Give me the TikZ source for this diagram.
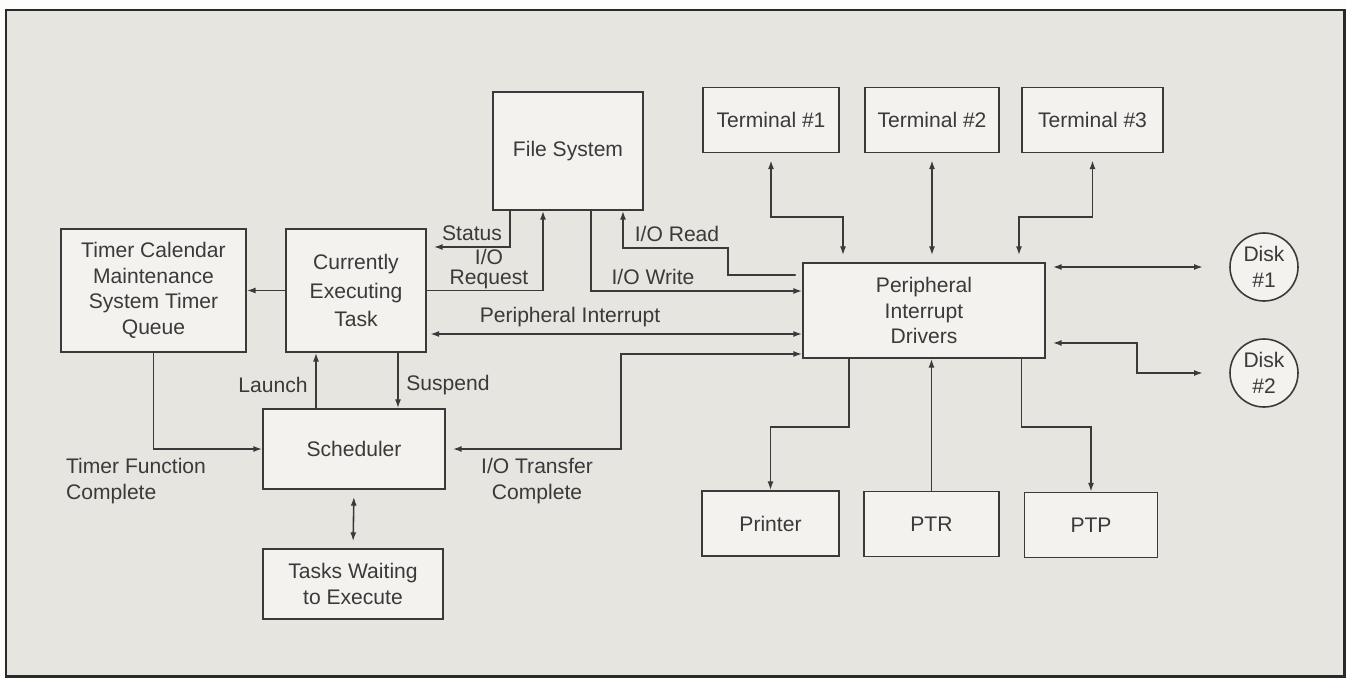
\documentclass[tikz,border=0pt]{standalone}
\usepackage{fontspec}
\setmainfont{Liberation Sans}
\usetikzlibrary{calc,arrows.meta,positioning}
\definecolor{papel}{HTML}{E6E5E0}
\definecolor{blanco}{HTML}{F3F2EE}
\definecolor{tinta}{HTML}{3A3A3A}
\definecolor{marco}{HTML}{2A2A2A}
\tikzset{
  caja/.style={draw=tinta,fill=blanco,line width=0.9pt,align=center,inner sep=2pt},
  disco/.style={draw=tinta,fill=blanco,line width=0.9pt,circle,minimum size=1.36cm,
                inner sep=0pt,align=center},
  flecha/.style={tinta,line width=0.9pt},
  rotulo/.style={tinta,inner sep=1pt},
}

\begin{document}
\begin{tikzpicture}[x=0.02cm,y=-0.02cm,>={Latex[length=5pt,width=3.4pt]},line cap=round,
                    font=\fontsize{12}{14.5}\selectfont,text=tinta]
        \useasboundingbox (0,0) rectangle (1347,677);
        \fill[white!92!papel] (0,0) rectangle (1347,677);
        \draw[marco,line width=1.7pt,fill=papel] (6,10) rectangle (1344,676);
        % cajas
        \node[caja,minimum width=3.7cm,minimum height=2.46cm] (timer) at (153.5,290.5)
              {Timer Calendar\\Maintenance\\System Timer\\Queue};
        \node[caja,minimum width=2.8cm,minimum height=2.46cm] (tarea) at (356,290.5)
              {Currently\\[1.5pt]Executing\\[1.5pt]Task};
        \node[caja,minimum width=3cm,minimum height=2.36cm] (archivos) at (568,151) {File System};
        \node[caja,minimum width=2.72cm,minimum height=1.3cm] (term1) at (771,120) {Terminal \#1};
        \node[caja,minimum width=2.68cm,minimum height=1.3cm] (term2) at (932,120) {Terminal \#2};
        \node[caja,minimum width=2.82cm,minimum height=1.3cm] (term3) at (1092.5,120) {Terminal \#3};
        \node[caja,minimum width=4.84cm,minimum height=1.9cm] (pid) at (924,310.5)
              {Peripheral\\Interrupt\\Drivers};
        \node[disco] (disco1) at (1264,267) {Disk\\\#1};
        \node[disco] (disco2) at (1264,373) {Disk\\\#2};
        \node[caja,minimum width=3.64cm,minimum height=1.6cm] (sched) at (354,449) {Scheduler};
        \node[caja,minimum width=3.6cm,minimum height=1.4cm] (espera) at (353,584)
              {Tasks Waiting\\to Execute};
        \node[caja,minimum width=2.74cm,minimum height=1.3cm] (printer) at (770.5,523.5) {Printer};
        \node[caja,minimum width=2.7cm,minimum height=1.3cm] (ptr) at (931.5,524) {PTR};
        \node[caja,minimum width=2.66cm,minimum height=1.3cm] (ptp) at (1091,525) {PTP};
        % puntos de quiebre
        \coordinate (carril) at (0,217);
        \coordinate (lectura) at (728,248);
        \coordinate (transf) at (621,449);
        \coordinate (quiebre) at (1137,373);
        \coordinate (abajo) at (0,427);
        % conexiones
        \draw[flecha,->] (tarea.west) -- (timer.east);
        \draw[flecha,->,shorten >=4pt] ([xshift=-1.16cm]archivos.south) |- ([yshift=0.87cm]tarea.east);
        \draw[flecha,->] (tarea.east) -| ([xshift=-0.5cm]archivos.south);
        \draw[flecha,->] ([xshift=0.46cm]archivos.south) |- ([yshift=0.39cm]pid.west);
        \draw[flecha,->] ([yshift=0.71cm,xshift=-4pt]pid.west) -| (lectura) -| ([xshift=1.1cm]archivos.south);
        \draw[flecha,<->,shorten <=2pt] ([yshift=-0.47cm]pid.west -| tarea.east) -- ([yshift=-0.47cm]pid.west);
        \draw[flecha,<->,shorten >=4pt] ([yshift=-0.87cm]pid.west) -| (transf) -- (sched.east);
        \draw[flecha,->] ([xshift=-0.76cm]sched.north) -- ([xshift=-0.76cm]sched.north |- tarea.south);
        \draw[flecha,->] ([xshift=0.88cm]sched.north |- tarea.south) -- ([xshift=0.88cm]sched.north);
        \draw[flecha,->] (timer.south) |- (sched.west);
        \draw[flecha,<->,shorten <=4pt,shorten >=4pt] (sched.south) -- (espera.north);
        \draw[flecha,<->,shorten <=4pt,shorten >=4pt] (term1.south) -- (term1.south |- carril)
              -| ([xshift=-1.62cm]pid.north);
        \draw[flecha,<->,shorten <=4pt,shorten >=4pt] (term2.south) -- (term2.south |- pid.north);
        \draw[flecha,<->,shorten <=4pt,shorten >=4pt] (term3.south) -- (term3.south |- carril)
              -| ([xshift=1.9cm]pid.north);
        \draw[flecha,<->,shorten <=4pt,shorten >=15pt] (disco1 -| pid.east) -- (disco1.west);
        \draw[flecha,<->,shorten <=4pt,shorten >=15pt] ([yshift=-0.65cm]pid.east) -| (quiebre) -- (disco2.west);
        \draw[flecha,->] ([xshift=-1.5cm]pid.south) -- ([xshift=-1.5cm]pid.south |- abajo) -| (printer.north);
        \draw[flecha,->] (ptr.north) -- (ptr.north |- pid.south);
        \draw[flecha,->] ([xshift=1.95cm]pid.south) -- ([xshift=1.95cm]pid.south |- abajo) -| (ptp.north);
        % rotulos
        \node[rotulo] (lstatus) at (472,233) {Status};
        \node[rotulo,align=center,font=\fontsize{12}{11}\selectfont] (lreq) at (489,269) {I/O\\Request};
        \node[rotulo] (lwrite) at (653,277) {I/O Write};
        \node[rotulo] (lread) at (677,234) {I/O Read};
        \node[rotulo] (linter) at (570,317) {Peripheral Interrupt};
        \node[rotulo] (llaunch) at (273,385) {Launch};
        \node[rotulo] (lsusp) at (448,385) {Suspend};
        \node[rotulo,align=left,anchor=west] (ltimer) at (64,481) {Timer Function\\Complete};
        \node[rotulo,align=center] (ltransf) at (537,481) {I/O Transfer\\Complete};
      \end{tikzpicture}
\end{document}
